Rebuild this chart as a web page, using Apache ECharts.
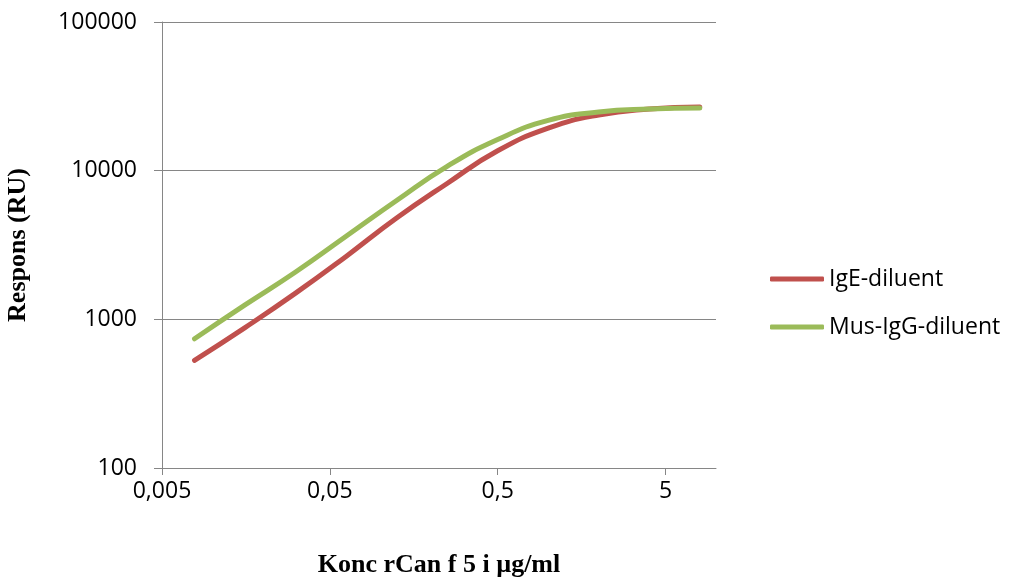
<!DOCTYPE html>
<html>
<head>
<meta charset="utf-8">
<script src="https://cdn.jsdelivr.net/npm/echarts@6/dist/echarts.min.js"></script>
<style>html,body{margin:0;padding:0;background:#fff}#c{width:1009px;height:578px}</style>
</head>
<body>
<div id="c"></div>
<script>
// concentrations (µg/ml)
const concentrations = [0.0078125, 0.015625, 0.03125, 0.0625, 0.125, 0.25, 0.5, 1, 2, 4, 8];
const igeDiluent = [530, 880, 1500, 2650, 4800, 8200, 13600, 19300, 23700, 26000, 26800];
const musIgGDiluent = [740, 1250, 2080, 3620, 6300, 10700, 16200, 21800, 24800, 26000, 26400];
const xTickLabels = ['0,005', '0,05', '0,5', '5'];
const yTickLabels = ['100', '1000', '10000', '100000'];
const seriesNames = ['IgE-diluent', 'Mus-IgG-diluent'];

const xBase = 0.005;
const xMaxConc = 10;
const toX = c => Math.log10(c / xBase);
const mk = vals => concentrations.map((c, i) => [toX(c), vals[i]]);

const lab = "'Open Sans', sans-serif";
const chart = echarts.init(document.getElementById('c'), null, {renderer: 'canvas'});
chart.setOption({
  animation: false,
  backgroundColor: '#fff',
  grid: {left: 162, right: 293, top: 22, bottom: 110, containLabel: false, outerBoundsMode: 'none'},
  legend: {
    orient: 'vertical', left: 770, top: 267, padding: 0,
    itemWidth: 54, itemHeight: 5, itemGap: 24,
    textStyle: {fontFamily: lab, fontSize: 23, color: '#000', lineHeight: 24},
    data: seriesNames.map(n => ({name: n, icon: 'roundRect'})),
    selectedMode: false
  },
  xAxis: {
    type: 'value', min: 0, max: toX(xMaxConc), interval: 1,
    name: 'Konc rCan f 5 i µg/ml', nameLocation: 'middle', nameGap: 84,
    nameTextStyle: {fontFamily: "'Liberation Serif', serif", fontWeight: 'bold', fontSize: 26, color: '#000'},
    axisLine: {show: true, lineStyle: {color: '#868686', width: 1}},
    axisTick: {show: true, length: 7, lineStyle: {color: '#868686'}, customValues: [0, 1, 2, 3]},
    axisLabel: {
      fontFamily: lab, fontSize: 23, color: '#000', margin: 12,
      customValues: [0, 1, 2, 3],
      formatter: v => xTickLabels[Math.round(v)] || ''
    },
    splitLine: {show: false}
  },
  yAxis: {
    type: 'log', logBase: 10, min: 100, max: 100000,
    name: 'Respons (RU)', nameLocation: 'middle', nameGap: 131,
    nameTextStyle: {fontFamily: "'Liberation Serif', serif", fontWeight: 'bold', fontSize: 26, color: '#000'},
    axisLine: {show: true, lineStyle: {color: '#868686', width: 1}},
    axisTick: {show: true, length: 8, lineStyle: {color: '#868686'}},
    axisLabel: {
      fontFamily: lab, fontSize: 23, color: '#000', margin: 25,
      formatter: v => yTickLabels[Math.round(Math.log10(v)) - 2] || String(v)
    },
    splitLine: {show: true, lineStyle: {color: '#868686', width: 1}}
  },
  series: [
    {name: seriesNames[0], type: 'line', data: mk(igeDiluent), showSymbol: false, symbol: 'none',
     smooth: 0.5, color: '#C0504D',
     lineStyle: {color: '#C0504D', width: 5, cap: 'round', join: 'round'}},
    {name: seriesNames[1], type: 'line', data: mk(musIgGDiluent), showSymbol: false, symbol: 'none',
     smooth: 0.5, color: '#9BBB59',
     lineStyle: {color: '#9BBB59', width: 5, cap: 'round', join: 'round'}}
  ]
});
</script>
</body>
</html>
